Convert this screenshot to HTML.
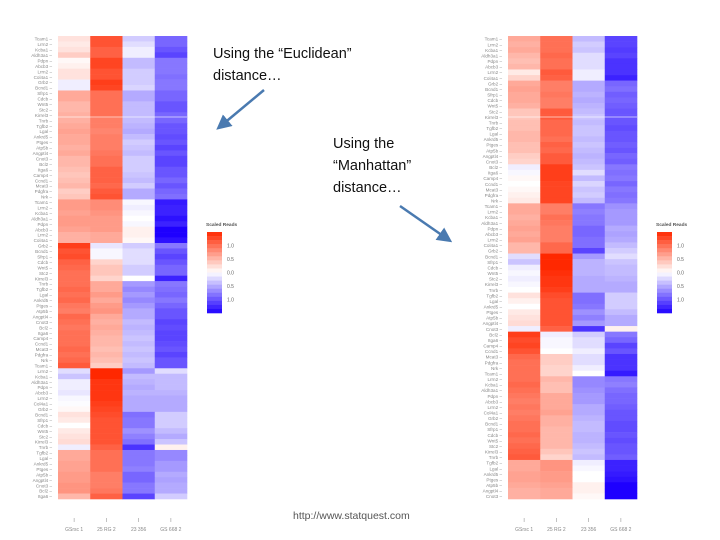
<!DOCTYPE html>
<html><head><meta charset="utf-8"><style>
body{margin:0;background:#fff;width:720px;height:540px;overflow:hidden;font-family:"Liberation Sans",sans-serif}
svg{display:block}
</style></head><body>
<svg id="chart" width="720" height="540" viewBox="0 0 720 540"></svg>
<script>
const colLabels=["GSrsc 1","25 RG 2","23 356","GS 668 2"];
const geneNames=["Tcam1","Lrrn2","Kcba1","Aldh3a1","Pdpn","Abcb3","Lrrn2","Col4a1","Grb2","Bcnd1","Sfrp1","Cdcb","Wnt5","Stc2","Kirrel3","Tnrb","Tgfb2","Lgal","Ankrd5","Ptges","Atp5b","Angptl4","Cnot3","Bcl2","Itga6","Camp4","Ccnd1","Mcat3","Pdgfra","Nrk"];
const euclidVals=[
[0.2,1.2,-0.3,-0.9],[0.15,1.2,-0.2,-0.9],[0.2,1.1,-0.1,-1.0],[0.35,1.1,-0.1,-1.1],[0.05,1.3,-0.4,-0.8],
[0.1,1.3,-0.4,-0.8],[0.2,1.2,-0.3,-0.8],[0.2,1.2,-0.3,-0.85],[-0.1,1.35,-0.3,-0.8],[-0.1,1.3,-0.25,-0.8],
[0.6,1.0,-0.5,-0.9],[0.6,1.0,-0.5,-0.9],[0.5,1.0,-0.4,-1.0],[0.5,1.0,-0.4,-1.0],[0.55,1.0,-0.4,-0.9],
[0.55,0.9,-0.4,-0.9],[0.6,0.9,-0.45,-1.0],[0.65,0.85,-0.5,-1.0],[0.6,0.9,-0.4,-1.05],[0.6,0.9,-0.3,-1.0],
[0.55,0.9,-0.35,-1.1],[0.6,0.95,-0.4,-1.0],[0.5,1.0,-0.3,-1.1],[0.5,1.0,-0.3,-1.1],[0.45,1.1,-0.3,-1.0],
[0.4,1.1,-0.35,-1.0],[0.45,1.1,-0.4,-0.9],[0.5,1.05,-0.3,-1.0],[0.35,1.15,-0.5,-0.9],[0.4,1.2,-0.5,-0.85],
[0.7,0.8,-0.05,-1.35],[0.7,0.8,-0.1,-1.3],[0.65,0.75,-0.05,-1.3],[0.7,0.7,0.0,-1.4],[0.7,0.7,-0.05,-1.3],
[0.65,0.7,0.1,-1.5],[0.55,0.6,0.1,-1.55],[0.55,0.6,0.05,-1.4],[1.35,-0.15,-0.3,-0.8],[1.2,-0.05,-0.2,-1.0],
[1.25,-0.05,-0.2,-1.1],[1.1,0.3,-0.2,-1.0],[1.05,0.4,-0.3,-0.9],[1.0,0.4,-0.3,-0.9],[1.0,0.3,0.0,-1.3],
[1.0,0.6,-0.6,-0.8],[1.05,0.6,-0.7,-0.85],[1.0,0.7,-0.6,-0.9],[1.05,0.6,-0.7,-0.8],[0.95,0.7,-0.6,-0.9],
[0.9,0.75,-0.5,-1.0],[1.05,0.6,-0.5,-1.0],[1.0,0.55,-0.4,-1.1],[0.95,0.6,-0.45,-1.05],[1.0,0.55,-0.4,-1.1],
[1.0,0.5,-0.35,-1.1],[1.0,0.5,-0.4,-1.05],[1.05,0.45,-0.35,-1.0],[1.0,0.5,-0.4,-1.1],[1.05,0.45,-0.35,-1.0],
[1.15,0.35,-0.4,-1.0],[-0.2,1.5,-0.6,-0.2],[-0.35,1.5,-0.4,-0.4],[-0.1,1.4,-0.45,-0.4],[-0.1,1.4,-0.5,-0.4],
[-0.15,1.4,-0.45,-0.45],[-0.05,1.4,-0.5,-0.5],[-0.02,1.35,-0.5,-0.5],[0.05,1.3,-0.5,-0.5],[0.2,1.25,-0.85,-0.3],
[0.15,1.2,-0.8,-0.3],[0.0,1.2,-0.8,-0.3],[0.15,1.2,-0.65,-0.4],[0.2,1.2,-0.75,-0.5],[0.25,1.2,-0.85,-0.35],
[-0.1,1.1,-1.2,0.1],[0.6,1.0,-0.8,-0.7],[0.6,1.0,-0.8,-0.7],[0.65,1.0,-0.8,-0.6],[0.65,1.0,-0.75,-0.6],
[0.7,0.9,-0.9,-0.5],[0.7,0.9,-0.9,-0.55],[0.75,0.9,-0.8,-0.5],[0.75,0.95,-0.8,-0.5],[0.5,1.1,-1.1,-0.3]
];
const manhattanVals=[
[0.6,1.0,-0.4,-1.1],[0.55,1.0,-0.3,-1.1],[0.6,1.0,-0.35,-1.15],[0.5,1.05,-0.2,-1.1],[0.45,1.0,-0.2,-1.2],
[0.5,1.0,-0.2,-1.2],[0.15,1.15,-0.1,-1.2],[0.3,1.1,-0.1,-1.3],[0.6,0.9,-0.5,-0.9],[0.65,0.9,-0.5,-0.85],
[0.6,0.95,-0.45,-0.95],[0.6,0.9,-0.5,-0.9],[0.55,0.9,-0.45,-0.95],[0.4,1.15,-0.4,-1.0],[0.4,1.15,-0.35,-1.0],
[0.45,1.05,-0.4,-1.0],[0.45,1.05,-0.35,-1.05],[0.5,1.05,-0.35,-1.0],[0.5,1.0,-0.4,-1.0],[0.45,1.1,-0.35,-0.95],
[0.45,1.05,-0.4,-1.0],[0.35,1.15,-0.45,-0.9],[0.3,1.15,-0.4,-0.95],[-0.1,1.35,-0.35,-0.8],[-0.05,1.35,-0.2,-0.85],
[0.05,1.35,-0.4,-0.8],[0.0,1.3,-0.25,-0.9],[0.05,1.3,-0.35,-0.8],[0.1,1.3,-0.3,-0.85],[0.15,1.3,-0.4,-0.8],
[0.6,0.9,-0.8,-0.65],[0.6,0.9,-0.75,-0.6],[0.55,1.0,-0.8,-0.6],[0.6,0.95,-0.8,-0.6],[0.65,0.9,-0.9,-0.5],
[0.6,0.9,-0.9,-0.55],[0.65,0.9,-0.85,-0.5],[0.5,1.05,-0.85,-0.4],[0.5,1.05,-1.1,-0.3],[-0.2,1.5,-0.6,-0.2],
[-0.35,1.5,-0.45,-0.35],[-0.1,1.5,-0.45,-0.4],[-0.05,1.45,-0.45,-0.4],[-0.1,1.4,-0.5,-0.45],[-0.05,1.4,-0.5,-0.5],
[0.0,1.35,-0.5,-0.5],[0.2,1.25,-0.85,-0.3],[0.1,1.2,-0.85,-0.3],[0.0,1.2,-0.8,-0.3],[0.15,1.2,-0.65,-0.4],
[0.2,1.2,-0.75,-0.5],[0.25,1.2,-0.6,-0.5],[-0.1,1.1,-1.2,0.1],[1.35,-0.1,-0.3,-0.8],[1.25,-0.05,-0.2,-0.9],
[1.3,-0.05,-0.2,-1.1],[1.2,0.0,-0.1,-1.0],[1.05,0.35,-0.2,-1.2],[1.0,0.35,-0.2,-1.2],[1.0,0.3,-0.1,-1.2],
[1.0,0.3,0.0,-1.35],[1.0,0.5,-0.7,-0.8],[1.05,0.45,-0.7,-0.75],[1.0,0.45,-0.65,-0.85],[0.95,0.6,-0.6,-0.9],
[0.9,0.6,-0.6,-0.9],[0.95,0.6,-0.5,-0.95],[0.9,0.65,-0.5,-1.0],[0.95,0.55,-0.45,-1.0],[1.0,0.55,-0.4,-1.05],
[1.0,0.5,-0.4,-1.05],[1.05,0.5,-0.45,-1.0],[1.0,0.5,-0.45,-1.05],[1.05,0.5,-0.4,-1.0],[1.1,0.4,-0.35,-1.0],
[1.15,0.3,-0.4,-0.95],[0.6,0.75,-0.1,-1.3],[0.6,0.75,-0.05,-1.3],[0.65,0.7,0.0,-1.35],[0.65,0.7,0.0,-1.4],
[0.6,0.65,0.1,-1.5],[0.55,0.6,0.1,-1.55],[0.55,0.6,0.05,-1.5]
];
const legendTicks=[1.0,0.5,0.0,-0.5,-1.0];
const legendTickText=["1.0","0.5","0.0","0.5","1.0"];

const NS="http://www.w3.org/2000/svg";
const svg=document.getElementById('chart');
function mk(tag,attrs,parent){const e=document.createElementNS(NS,tag);for(const k in attrs)e.setAttribute(k,attrs[k]);(parent||svg).appendChild(e);return e;}
function color(v){let t=Math.max(-1,Math.min(1,v/1.5));
 if(t>=0){return `rgb(255,${Math.round(255-215*t)},${Math.round(255-255*t)})`;}
 t=-t;return `rgb(${Math.round(255-225*t)},${Math.round(255-255*t)},255)`;}

function heatmap(vals,x0,name){
 const y0=36,y1=499,w=129,nc=4,n=vals.length;
 const g=mk('g',{});
 
 
 const cw=w/nc,rh=(y1-y0)/n;
 const xs=c=>x0+c*cw, ys=r=>y0+r*rh;
 vals.forEach((row,r)=>{
  row.forEach((v,c)=>{
   const rc=mk('rect',{x:xs(c),y:ys(r),width:cw+0.3,height:rh+0.3,fill:color(v)},g);
   
   
  });
  const t=mk('text',{x:x0-6,y:ys(r)+rh*0.85,'font-size':4.6,fill:'#888','text-anchor':'end'},g);
  t.textContent=geneNames[r%geneNames.length]+" \u2013";
  
  
 });
 const sep=mk('line',{x1:x0,x2:x0+w,y1:117,y2:117,stroke:'#fff','stroke-width':0.8,opacity:0.8},g);
 colLabels.forEach((l,c)=>{
  const tk=mk('line',{x1:xs(c)+cw/2,x2:xs(c)+cw/2,y1:518,y2:522,stroke:'#999','stroke-width':0.6},g);
  const t=mk('text',{x:xs(c)+cw/2,y:531,'font-size':5,fill:'#888','text-anchor':'middle'},g);
  t.textContent=l;
  
  
 });
}
heatmap(euclidVals,58,'euclidean-heatmap');
heatmap(manhattanVals,508,'manhattan-heatmap');

function legend(x,name){
 const g=mk('g',{});
 
 
 const t=mk('text',{x:x-1,y:226,'font-size':4.8,'font-weight':'bold',fill:'#555'},g);
 t.textContent="Scaled Reads";
 const top=232,bot=313,steps=20;
 const ly=v=>top+(1.5-v)/3*(bot-top);
 for(let i=0;i<steps;i++){const v=1.5-3*(i+0.5)/steps;
  mk('rect',{x:x,y:top+i*(bot-top)/steps,width:15,height:(bot-top)/steps+0.3,fill:color(v)},g);}
 legendTicks.forEach((v,i)=>{
  const tt=mk('text',{x:x+20,y:ly(v)+2,'font-size':5,fill:'#666'},g);
  tt.textContent=legendTickText[i];
  
  
 });
}
legend(207,'euclidean-legend');
legend(657,'manhattan-legend');

function txt(s,x,y,name,size,fill){const t=mk('text',{x:x,y:y,'font-size':size,fill:fill,'font-family':'Liberation Sans, sans-serif'});t.textContent=s;
 return t;}
txt("Using the \u201cEuclidean\u201d",213,58,'euclidean-caption-line1',14.5,'#111');
txt("distance\u2026",213,80,'euclidean-caption-line2',14.5,'#111');
txt("Using the",333,148,'manhattan-caption-line1',14.5,'#111');
txt("\u201cManhattan\u201d",333,170,'manhattan-caption-line2',14.5,'#111');
txt("distance\u2026",333,192,'manhattan-caption-line3',14.5,'#111');
txt("http://www.statquest.com",293,519,'source-url',10.5,'#555');

const defs=mk('defs',{});
const m=mk('marker',{id:'ah',markerWidth:6,markerHeight:6,refX:3,refY:3,orient:'auto',markerUnits:'strokeWidth'},defs);
mk('path',{d:'M0,0 L6,3 L0,6 z',fill:'#4a7ab0'},m);
const a1=mk('line',{x1:264,y1:90,x2:222,y2:125,stroke:'#4a7ab0','stroke-width':2.5,'marker-end':'url(#ah)'});

const a2=mk('line',{x1:400,y1:206,x2:446,y2:238,stroke:'#4a7ab0','stroke-width':2.5,'marker-end':'url(#ah)'});

</script>
</body></html>
